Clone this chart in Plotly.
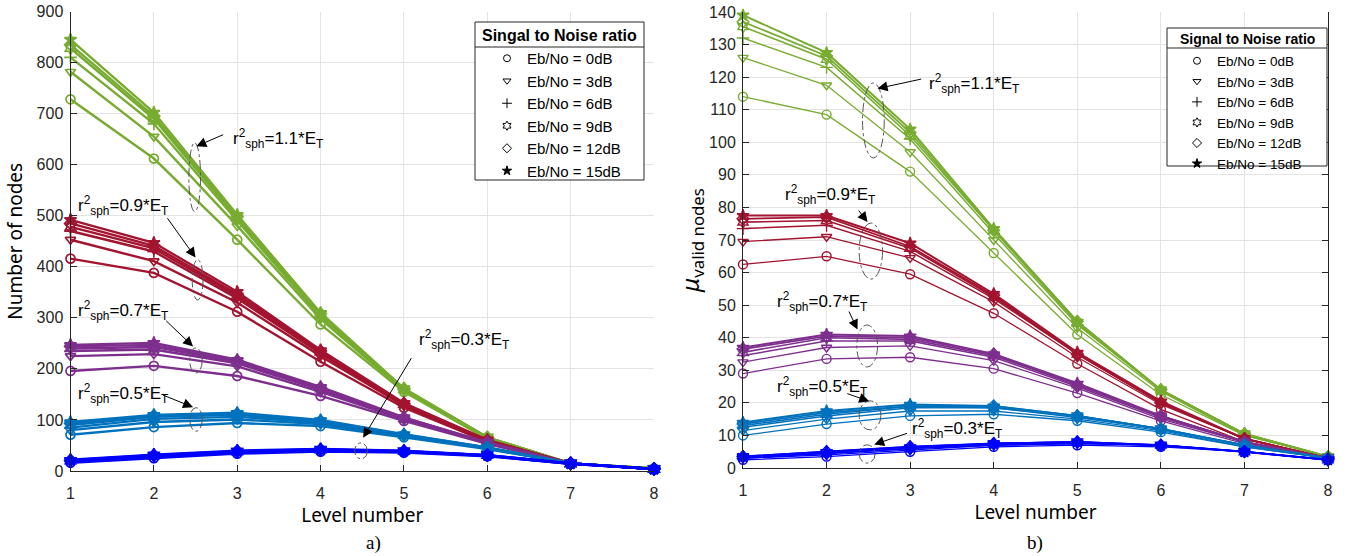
import plotly.graph_objects as go

levels = [1, 2, 3, 4, 5, 6, 7, 8]
ebno_labels = ["Eb/No = 0dB", "Eb/No = 3dB", "Eb/No = 6dB",
               "Eb/No = 9dB", "Eb/No = 12dB", "Eb/No = 15dB"]

# ---- panel a) Number of nodes (rows: Eb/No 0,3,6,9,12,15 dB) ----
a_r11 = [[728, 612, 453, 287, 155, 63, 15, 5],
         [782, 655, 480, 298, 157, 64, 15, 5],
         [810, 680, 490, 303, 159, 65, 15, 5],
         [828, 690, 495, 306, 160, 66, 15, 5],
         [835, 695, 498, 308, 161, 66, 15, 5],
         [845, 702, 502, 310, 162, 66, 15, 5]]
a_r09 = [[416, 388, 312, 214, 124, 57, 15, 4],
         [453, 411, 330, 225, 128, 58, 15, 4],
         [470, 430, 338, 230, 130, 59, 15, 4],
         [478, 436, 342, 233, 131, 60, 15, 4],
         [485, 441, 346, 235, 132, 60, 15, 4],
         [492, 447, 351, 237, 133, 61, 15, 4]]
a_r07 = [[196, 206, 186, 147, 98, 53, 15, 4],
         [225, 229, 205, 155, 101, 54, 15, 4],
         [235, 238, 211, 159, 102, 55, 15, 4],
         [240, 243, 214, 161, 103, 55, 15, 4],
         [244, 247, 216, 163, 104, 56, 15, 4],
         [247, 251, 218, 165, 105, 56, 15, 4]]
a_r05 = [[71, 86, 94, 88, 66, 43, 15, 4],
         [80, 96, 101, 92, 68, 44, 15, 4],
         [85, 102, 106, 95, 69, 45, 15, 4],
         [90, 106, 110, 97, 70, 45, 15, 4],
         [93, 108, 112, 98, 71, 46, 15, 4],
         [96, 110, 114, 100, 72, 46, 15, 4]]
a_r03 = [[16, 25, 34, 38, 36, 29, 14, 4],
         [18, 28, 36, 40, 37, 30, 14, 4],
         [19, 29, 37, 41, 38, 30, 14, 4],
         [20, 30, 38, 42, 39, 31, 15, 4],
         [21, 31, 39, 42, 39, 31, 15, 4],
         [22, 32, 40, 43, 40, 31, 15, 4]]

# ---- panel b) mu valid nodes ----
b_r11 = [[114, 108.5, 91, 66, 41, 22.5, 10, 3.5],
         [126, 117.5, 97, 70, 43, 23.5, 10, 3.5],
         [132, 123, 101, 72, 44, 24, 10.5, 3.5],
         [135.5, 125.5, 102, 73, 44.5, 24, 10.5, 3.5],
         [137, 126.5, 103, 73, 45, 24, 10.5, 3.5],
         [139, 127.5, 104, 73.5, 45, 24, 10.5, 3.5]]
b_r09 = [[62.5, 65, 59.5, 47.5, 32, 18, 8, 3],
         [69.5, 71, 64.5, 51, 34, 19.5, 9, 3],
         [73.5, 74.5, 66.5, 52, 35, 20, 9, 3],
         [75.5, 76, 67.5, 52.5, 35, 20, 9, 3],
         [76.5, 77, 68, 53, 35, 20, 9, 3],
         [77.5, 77.5, 69, 53.5, 35.5, 20.5, 9, 3]]
b_r07 = [[29, 33.5, 34, 30.5, 23, 14.5, 7.5, 3],
         [32.5, 37, 37.5, 33, 24.5, 15, 8, 3],
         [34.5, 39, 39, 34, 25, 15.5, 8, 3],
         [35.5, 40, 39.5, 34.5, 25.5, 16, 8, 3],
         [36.5, 40.5, 40, 35, 25.5, 16, 8, 3],
         [37, 41, 40.5, 35, 26, 16, 8, 3]]
b_r05 = [[10, 13.5, 16, 16.5, 14.5, 11, 6.5, 3],
         [11.5, 15, 17.5, 17.5, 15, 11.5, 6.5, 3],
         [12.5, 16, 18.5, 18.5, 15.5, 12, 7, 3],
         [13, 16.5, 19, 18.5, 16, 12, 7, 3],
         [13.5, 17, 19, 19, 16, 12, 7, 3],
         [14, 17.5, 19.5, 19, 16, 12, 7, 3]]
b_r03 = [[2.5, 3.5, 5, 6.5, 7, 6.5, 5, 2.5],
         [3, 4, 5.5, 7, 7.5, 7, 5, 2.5],
         [3, 4.5, 6, 7, 7.5, 7, 5, 2.5],
         [3.5, 4.5, 6, 7.5, 8, 7, 5, 2.5],
         [3.5, 5, 6.5, 7.5, 8, 7, 5, 2.5],
         [3.5, 5, 6.5, 7.5, 8, 7, 5, 2.5]]

colors = {"r11": "#77AC30", "r09": "#A2142F", "r07": "#7E2F8E",
          "r05": "#0072BD", "r03": "#0000FF"}
symbols = ["circle-open", "triangle-down-open", "cross-thin-open",
           "hexagram-open", "diamond-open", "star"]

fig = go.Figure()

panel_a = [("r11", a_r11), ("r09", a_r09), ("r07", a_r07), ("r05", a_r05), ("r03", a_r03)]
panel_b = [("r11", b_r11), ("r09", b_r09), ("r07", b_r07), ("r05", b_r05), ("r03", b_r03)]

for key, rows in panel_a:
    for i, row in enumerate(rows):
        fig.add_trace(go.Scatter(
            x=levels, y=row, mode="lines+markers", xaxis="x", yaxis="y",
            line=dict(color=colors[key], width=2.4),
            marker=dict(symbol=symbols[i], size=9, color=colors[key],
                        line=dict(color=colors[key], width=1.7)),
            showlegend=False, cliponaxis=False, hoverinfo="skip"))

b_widths = [1.3, 1.3, 1.5, 1.6, 1.8, 2.0]
for key, rows in panel_b:
    for i, row in enumerate(rows):
        fig.add_trace(go.Scatter(
            x=levels, y=row, mode="lines+markers", xaxis="x2", yaxis="y2",
            line=dict(color=colors[key], width=b_widths[i]),
            marker=dict(symbol=symbols[i], size=9, color=colors[key],
                        line=dict(color=colors[key], width=1.4)),
            showlegend=False, cliponaxis=False, hoverinfo="skip"))

# legend entries (black markers)
for lg in ["legend", "legend2"]:
    for i, lab in enumerate(ebno_labels):
        fig.add_trace(go.Scatter(
            x=[None], y=[None], mode="markers", name=lab, legend=lg,
            xaxis="x" if lg == "legend" else "x2",
            yaxis="y" if lg == "legend" else "y2",
            marker=dict(symbol=symbols[i], size=7, color="black",
                        line=dict(color="black", width=1))))

W, H = 1347, 556
def px(xp): return xp / W
def py(yp): return 1 - yp / H

axis_common = dict(showgrid=True, gridcolor="#E3E3E3", gridwidth=1,
                   showline=True, linecolor="#262626", linewidth=1,
                   ticks="inside", ticklen=6, tickcolor="#262626",
                   tickfont=dict(family="Liberation Sans, Arial", size=16, color="#262626"),
                   zeroline=False, automargin=False)

title_font = dict(family="Noto Sans, Liberation Sans", size=19, color="black")

fig.update_layout(
    width=W, height=H, margin=dict(l=0, r=0, t=0, b=0, autoexpand=False),
    paper_bgcolor="white", plot_bgcolor="white",
    xaxis=dict(domain=[px(70.5), px(654)], range=[1, 8], dtick=1, anchor="y",
               ticklabelstandoff=8,
               title=dict(text="Level number", font=title_font, standoff=4),
               **axis_common),
    yaxis=dict(domain=[py(471), py(11.5)], range=[0, 900], dtick=100, anchor="x",
               ticklabelstandoff=3,
               title=dict(text="Number of nodes", font=title_font, standoff=8),
               **axis_common),
    xaxis2=dict(domain=[px(743), px(1328)], range=[1, 8], dtick=1, anchor="y2",
                ticklabelstandoff=8,
                title=dict(text="Level number", font=title_font, standoff=4),
                **axis_common),
    yaxis2=dict(domain=[py(468), py(12)], range=[0, 140], dtick=10, anchor="x2",
                mirror="ticks", ticklabelstandoff=3,
                title=dict(text="<i>μ</i><sub>valid nodes</sub>",
                           font=dict(family="Noto Sans, Liberation Sans", size=24, color="black"),
                           standoff=2),
                **axis_common),
    legend=dict(x=px(487), y=py(42), xanchor="left", yanchor="top",
                bgcolor="rgba(0,0,0,0)", borderwidth=0,
                font=dict(family="Liberation Sans, Arial", size=15, color="black"),
                itemwidth=30, tracegroupgap=0),
    legend2=dict(x=px(1177), y=py(45.5), xanchor="left", yanchor="top",
                 bgcolor="rgba(0,0,0,0)", borderwidth=0,
                 font=dict(family="Liberation Sans, Arial", size=13.5, color="black"),
                 itemwidth=30, tracegroupgap=0),
)

# legend boxes, separators and titles
box_line = dict(color="#262626", width=1)
fig.add_shape(type="rect", xref="paper", yref="paper", layer="above",
              x0=px(475), x1=px(644), y0=py(180), y1=py(22),
              fillcolor="white", line=box_line)
fig.add_shape(type="line", xref="paper", yref="paper", layer="above",
              x0=px(475), x1=px(644), y0=py(47), y1=py(47), line=box_line)
fig.add_shape(type="rect", xref="paper", yref="paper", layer="above",
              x0=px(1167), x1=px(1327), y0=py(166), y1=py(28),
              fillcolor="white", line=box_line)
fig.add_shape(type="line", xref="paper", yref="paper", layer="above",
              x0=px(1167), x1=px(1327), y0=py(48), y1=py(48), line=box_line)
fig.add_annotation(x=px(559.5), y=py(35), xref="paper", yref="paper",
                   text="<b>Singal to Noise ratio</b>", showarrow=False,
                   xanchor="center", yanchor="middle",
                   font=dict(family="Liberation Sans, Arial", size=16, color="black"))
fig.add_annotation(x=px(1247), y=py(38.5), xref="paper", yref="paper",
                   text="<b>Signal to Noise ratio</b>", showarrow=False,
                   xanchor="center", yanchor="middle",
                   font=dict(family="Liberation Sans, Arial", size=14, color="black"))

ell_line = dict(color="#555555", width=1, dash="dashdot")
ann_font = dict(family="Liberation Sans, Arial", size=17, color="black")

def label(x, y, ax, ay, text, xref, yref, tx, ty):
    fig.add_annotation(x=x, y=y, ax=ax, ay=ay, xref=xref, yref=yref,
                       axref=xref, ayref=yref, text="", showarrow=True,
                       arrowhead=2, arrowsize=2, arrowwidth=1, arrowcolor="black")
    fig.add_annotation(x=tx, y=ty, xref=xref, yref=yref, text=text,
                       showarrow=False, xanchor="left", yanchor="middle", font=ann_font)

def rtxt(v):
    return "r<sup>2</sup><sub>sph</sub>=" + v + "*E<sub>T</sub>"

# panel a ellipses and labels
ell_a = [(2.42, 2.56, 508, 643), (2.46, 2.59, 335, 414), (2.43, 2.58, 192, 241),
         (2.43, 2.58, 78, 124), (4.41, 4.56, 24, 55)]
for (x0, x1, y0, y1) in ell_a:
    fig.add_shape(type="circle", xref="x", yref="y", x0=x0, x1=x1, y0=y0, y1=y1, line=ell_line)

label(2.51, 636, 2.85, 660, rtxt("1.1"), "x", "y", 2.93, 652)
label(2.5, 418, 2.15, 498, rtxt("0.9"), "x", "y", 1.07, 520)
label(2.47, 244, 2.13, 297, rtxt("0.7"), "x", "y", 1.07, 315)
label(2.47, 125, 2.09, 150, rtxt("0.5"), "x", "y", 1.07, 152)
label(4.51, 65, 5.1, 224, rtxt("0.3"), "x", "y", 5.16, 258)

# panel b ellipses and labels
ell_b = [(2.43, 2.69, 95.2, 118.2), (2.39, 2.67, 58, 75.2), (2.36, 2.61, 31, 43.9),
         (2.39, 2.65, 11.7, 20.6), (2.39, 2.58, 1.5, 7.1)]
for (x0, x1, y0, y1) in ell_b:
    fig.add_shape(type="circle", xref="x2", yref="y2", x0=x0, x1=x1, y0=y0, y1=y1, line=ell_line)

label(2.61, 116.5, 3.15, 119.5, rtxt("1.1"), "x2", "y2", 3.2, 118)
label(2.49, 75.5, 2.37, 79.5, rtxt("0.9"), "x2", "y2", 1.48, 84)
label(2.37, 42.5, 2.26, 48.5, rtxt("0.7"), "x2", "y2", 1.38, 51)
label(2.51, 20.5, 2.23, 23, rtxt("0.5"), "x2", "y2", 1.38, 25)
label(2.57, 7.2, 2.98, 10.8, rtxt("0.3"), "x2", "y2", 3.0, 12)

# captions
cap_font = dict(family="Liberation Serif, Times New Roman", size=19, color="black")
fig.add_annotation(x=px(364), y=py(543), xref="paper", yref="paper", text="a)",
                   showarrow=False, yanchor="middle", font=cap_font)
fig.add_annotation(x=px(1045), y=py(543), xref="paper", yref="paper", text="b)",
                   showarrow=False, yanchor="middle", font=cap_font)

fig.write_html("out.html")
